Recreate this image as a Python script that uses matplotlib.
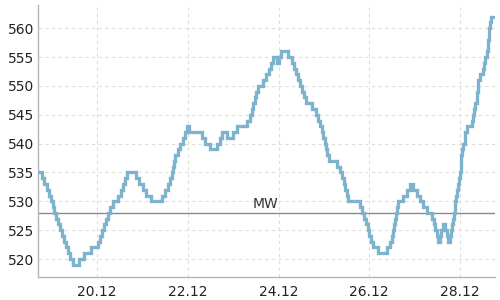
import matplotlib
matplotlib.use("Agg")
import matplotlib.pyplot as plt

# hours since 18.12 00:00 where the value changes (step chart)
hours = [
    16.8, 18.9, 20.0, 21.6, 22.6, 23.7, 24.7, 25.3, 26.3, 27.4,
    28.4, 29.5, 30.6, 31.6, 32.7, 33.7, 35.3, 38.5, 41.1, 44.8,
    48.5, 49.6, 50.6, 51.7, 52.8, 53.8, 54.9, 56.5, 59.1, 60.7,
    61.7, 62.8, 63.9, 68.6, 70.2, 72.3, 73.9, 76.5, 82.4, 83.9,
    85.5, 86.6, 87.6, 88.2, 88.7, 89.2, 90.8, 91.9, 93.5, 94.5,
    95.6, 96.6, 103.5, 105.1, 107.7, 111.4, 113.0, 114.1, 116.7, 119.9,
    122.0, 127.3, 128.9, 129.9, 130.5, 131.5, 132.0, 133.1, 135.7, 137.3,
    138.9, 140.0, 141.0, 143.1, 144.2, 145.3, 149.0, 151.1, 152.1, 153.2,
    154.2, 155.3, 156.4, 157.4, 158.5, 161.7, 163.8, 164.8, 165.9, 166.9,
    167.5, 168.5, 169.1, 169.6, 170.7, 174.9, 176.4, 177.5, 178.6, 179.1,
    180.2, 180.7, 187.0, 188.1, 189.1, 190.2, 191.3, 191.8, 192.8, 193.9,
    196.5, 201.3, 202.9, 203.9, 204.5, 205.0, 205.5, 206.1, 206.6, 207.1,
    209.7, 211.9, 213.4, 215.0, 217.1, 218.7, 220.3, 222.4, 225.1, 226.1,
    226.7, 227.7, 228.3, 229.3, 229.8, 230.9, 231.9, 233.0, 233.5, 234.6,
    235.1, 235.7, 236.2, 236.7, 237.2, 237.8, 238.3, 238.8, 239.4, 239.9,
    240.4, 240.9, 241.5, 242.5, 243.6, 246.2, 246.8, 247.3, 247.8, 248.9,
    249.4, 250.5, 252.0, 252.6, 253.1, 254.2, 254.7, 255.2, 255.7, 256.3, 257.3,
]
values = [
    535, 534, 533, 532, 531, 530, 529, 528, 527, 526,
    525, 524, 523, 522, 521, 520, 519, 520, 521, 522,
    523, 524, 525, 526, 527, 528, 529, 530, 531, 532,
    533, 534, 535, 534, 533, 532, 531, 530, 531, 532,
    533, 534, 535, 536, 537, 538, 539, 540, 541, 542,
    543, 542, 541, 540, 539, 540, 541, 542, 541, 542,
    543, 544, 545, 546, 547, 548, 549, 550, 551, 552,
    553, 554, 555, 554, 555, 556, 555, 554, 553, 552,
    551, 550, 549, 548, 547, 546, 545, 544, 543, 542,
    541, 540, 539, 538, 537, 536, 535, 534, 533, 532,
    531, 530, 529, 528, 527, 526, 525, 524, 523, 522,
    521, 522, 523, 524, 525, 526, 527, 528, 529, 530,
    531, 532, 533, 532, 531, 530, 529, 528, 527, 526,
    525, 524, 523, 524, 525, 526, 525, 524, 523, 524,
    525, 526, 527, 528, 530, 531, 532, 533, 534, 535,
    538, 539, 540, 542, 543, 544, 545, 546, 547, 549,
    551, 552, 553, 554, 555, 556, 558, 560, 561, 562, 562,
]

mean_value = 528
mean_label = "MW"
tick_days = [20, 22, 24, 26, 28]
tick_labels = ["20.12", "22.12", "24.12", "26.12", "28.12"]
y_ticks = [520, 525, 530, 535, 540, 545, 550, 555, 560]

fig = plt.figure(figsize=(5, 3), dpi=100)
ax = fig.add_axes([0.076, 0.077, 0.914, 0.906])

ax.step(hours, values, where="post", color="#7db3cc", lw=2.4,
        solid_joinstyle="miter", zorder=3)
ax.axhline(mean_value, color="#8a8a8a", lw=1.0, zorder=2)
ax.text(137.0, mean_value + 0.3, mean_label, ha="center", va="bottom",
        fontsize=10, color="#333333", fontweight="medium")

ax.set_xlim(16.8, 258.5)
ax.set_ylim(516.9, 564)
ax.set_xticks([(d - 18) * 24 for d in tick_days])
ax.set_xticklabels(tick_labels)
ax.set_yticks(y_ticks)

ax.grid(True, color="#dddddd", linestyle=(0, (3, 3)), lw=0.8)
ax.set_axisbelow(True)
for side in ["top", "right"]:
    ax.spines[side].set_visible(False)
for side in ["left", "bottom"]:
    ax.spines[side].set_color("#b5b5b5")
    ax.spines[side].set_linewidth(1.0)
ax.tick_params(length=0, labelsize=10, colors="#222222")
ax.tick_params(axis="x", pad=6)
ax.tick_params(axis="y", pad=3)

fig.savefig("out.png", dpi=100)
